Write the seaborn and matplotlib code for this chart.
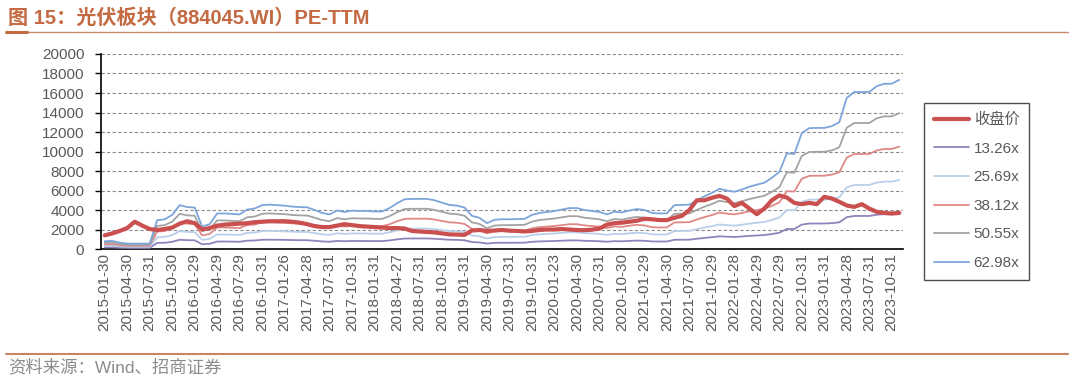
import numpy as np
import pandas as pd
import seaborn as sns
import matplotlib as mpl
from matplotlib import pyplot as plt
from matplotlib.lines import Line2D

sns.set_style('white')
plt.rcParams['font.family'] = ['Liberation Sans', 'Noto Sans CJK SC', 'DejaVu Sans']

# Quarter-end tick labels (one label every 3 months)
tick_labels = [
    "2015-01-30", "2015-04-30", "2015-07-31", "2015-10-30", "2016-01-29", "2016-04-29",
    "2016-07-29", "2016-10-31", "2017-01-26", "2017-04-28", "2017-07-31", "2017-10-31",
    "2018-01-31", "2018-04-27", "2018-07-31", "2018-10-31", "2019-01-31", "2019-04-30",
    "2019-07-31", "2019-10-31", "2020-01-23", "2020-04-30", "2020-07-31", "2020-10-30",
    "2021-01-29", "2021-04-30", "2021-07-30", "2021-10-29", "2022-01-28", "2022-04-29",
    "2022-07-29", "2022-10-31", "2023-01-31", "2023-04-28", "2023-07-31", "2023-10-31",
]

# Monthly close (2015-01 .. 2023-11)
close = [
    1400, 1600, 1850, 2150, 2800, 2400, 2050, 1950, 2050, 2200,
    2600, 2850, 2650, 2000, 2150, 2400, 2500, 2550, 2600, 2650,
    2750, 2800, 2850, 2850, 2850, 2800, 2700, 2550, 2350, 2250,
    2250, 2400, 2550, 2450, 2350, 2300, 2250, 2200, 2150, 2150,
    2100, 1850, 1800, 1750, 1700, 1600, 1500, 1480, 1450, 1900,
    1950, 1850, 1900, 1950, 1880, 1850, 1800, 1850, 1950, 2000,
    2000, 2050, 2000, 1950, 1930, 1980, 2100, 2500, 2650, 2700,
    2800, 2900, 3100, 3050, 2970, 2970, 3200, 3400, 4000, 5000,
    5000, 5250, 5450, 5180, 4400, 4730, 4150, 3570, 4150, 5000,
    5500, 5280, 4730, 4600, 4730, 4600, 5350, 5180, 4840, 4460,
    4320, 4600, 4150, 3810, 3700, 3640, 3700,
]

# Top band (62.98x PE); lower bands share the same EPS
band_6298 = [
    800, 830, 650, 560, 550, 550, 560, 2950, 3050, 3500,
    4500, 4300, 4250, 2300, 2550, 3650, 3650, 3600, 3550, 4050,
    4150, 4500, 4550, 4500, 4450, 4350, 4300, 4280, 4000, 3700,
    3550, 3950, 3800, 3930, 3900, 3900, 3850, 3850, 4200, 4700,
    5100, 5140, 5140, 5140, 5000, 4750, 4520, 4450, 4250, 3400,
    3200, 2650, 3000, 3050, 3050, 3070, 3090, 3500, 3700, 3800,
    3900, 4050, 4200, 4200, 4000, 3900, 3800, 3550, 3830, 3750,
    3950, 4100, 4000, 3700, 3650, 3660, 4500, 4520, 4550, 5000,
    5400, 5750, 6170, 6000, 5870, 6100, 6380, 6600, 6800, 7300,
    7900, 9800, 9750, 11900, 12400, 12420, 12420, 12600, 13000, 15500,
    16100, 16100, 16100, 16700, 16950, 16950, 17350,
]

pe_multiples = [13.26, 25.69, 38.12, 50.55, 62.98]
band_names = ["13.26x", "25.69x", "38.12x", "50.55x", "62.98x"]
band_colors = ["#9083BA", "#B9CFEA", "#DE8987", "#A3A3A3", "#7DA5DA"]
close_color = "#C9504F"

eps = np.array(band_6298) / 62.98
idx = np.arange(len(close))

df = pd.DataFrame({"idx": idx, "收盘价": close})
for m, name in zip(pe_multiples, band_names):
    df[name] = eps * m

fig = plt.figure(figsize=(10.8, 3.8), dpi=100)
ax = fig.add_axes([0.0935, 0.3447, 0.7426, 0.5132])

for name, col in zip(band_names, band_colors):
    sns.lineplot(data=df, x="idx", y=name, color=col, linewidth=1.3, ax=ax, zorder=3)
sns.lineplot(data=df, x="idx", y="收盘价", color=close_color, linewidth=3.0, ax=ax, zorder=4)

ax.set_xlim(-0.5, len(close) - 0.5)
ax.set_ylim(0, 20000)
ax.set_yticks(np.arange(0, 20001, 2000))
ax.set_yticklabels([str(v) for v in range(0, 20001, 2000)])
ax.set_xticks(np.arange(0, len(close), 3))
ax.set_xticklabels(tick_labels, rotation=90)
ax.set_xticks(np.arange(-0.5, len(close), 1), minor=True)
ax.set_xlabel("")
ax.set_ylabel("")

for v in range(2000, 20001, 2000):
    ax.axhline(v, color="#8C8C8C", linewidth=0.8, linestyle=(0, (3, 2)), zorder=1)

ax.tick_params(axis="x", which="major", length=0, pad=3, labelsize=11, labelcolor="#595959")
ax.tick_params(axis="x", which="minor", length=4, width=1, color="black", direction="out")
ax.tick_params(axis="y", which="major", length=4, width=1, color="black", direction="out",
               labelsize=11, labelcolor="#595959", pad=8)
ax.tick_params(axis="y", left=True)
ax.tick_params(axis="x", bottom=True)
for s in ["top", "right"]:
    ax.spines[s].set_visible(False)
for s in ["left", "bottom"]:
    ax.spines[s].set_color("black")
    ax.spines[s].set_linewidth(1.2)

handles = [Line2D([], [], color=close_color, linewidth=3.0)]
handles += [Line2D([], [], color=c, linewidth=1.3) for c in band_colors]
leg = fig.legend(handles, ["收盘价"] + band_names, loc="upper left",
                 bbox_to_anchor=(924 / 1080, 1 - 103 / 380), frameon=True, fancybox=False,
                 fontsize=11, handlelength=2.3, labelspacing=0.95, borderpad=0.65,
                 handletextpad=0.3, borderaxespad=0)
leg.get_frame().set_edgecolor("#222222")
leg.get_frame().set_linewidth(1.0)
for t in leg.get_texts():
    t.set_color("#595959")

# Title, separator lines and source note
fig.text(8 / 1080, 1 - 18 / 380, "图 15：光伏板块（884045.WI）PE-TTM", fontsize=14.5,
         fontweight="bold", color="#C46A43", va="center", ha="left")
fig.add_artist(Line2D([6 / 1080, 1068 / 1080], [1 - 31.5 / 380] * 2, color="#CB8A6B", linewidth=1.0))
fig.add_artist(Line2D([6 / 1080, 27 / 1080], [1 - 31.5 / 380] * 2, color="#C46A43", linewidth=2.2))
fig.add_artist(Line2D([6 / 1080, 1068 / 1080], [1 - 354 / 380] * 2, color="#C98562", linewidth=1.5))
fig.text(8 / 1080, 1 - 367 / 380, "资料来源：Wind、招商证券", fontsize=12.5,
         color="#8C8C8C", va="center", ha="left")

fig.savefig("out.png", dpi=100)
